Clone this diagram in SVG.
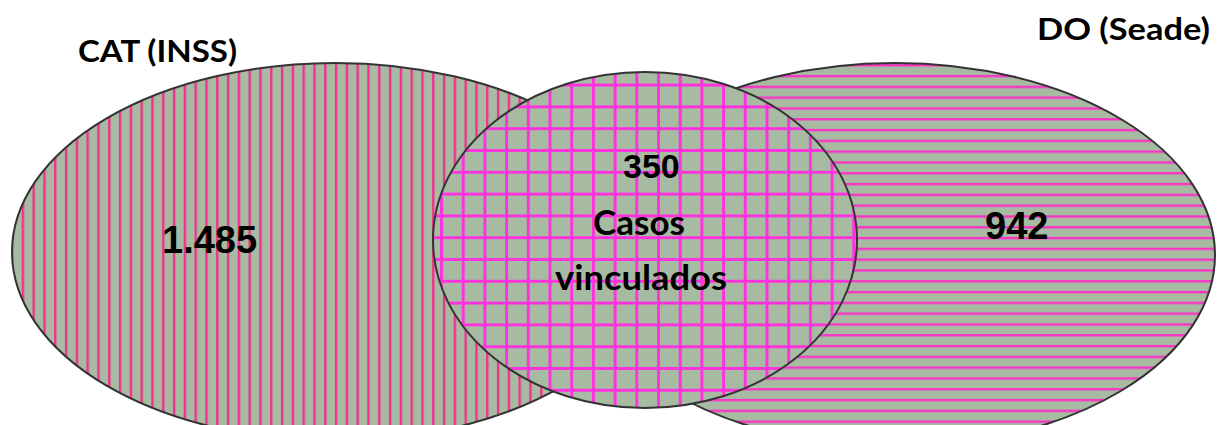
<svg xmlns="http://www.w3.org/2000/svg" width="1218" height="425" viewBox="0 0 1218 425">
<style>
.ell{stroke:#333;stroke-width:2}
.lbl{font-family:Lato,"Open Sans","Liberation Sans",sans-serif;font-weight:bold;fill:#000}
.num{font-family:"Liberation Sans",Arial,sans-serif;font-weight:bold;fill:#000}
</style>
<defs>
<pattern id="vert" patternUnits="userSpaceOnUse" x="0.1" y="0" width="10.8" height="20">
<rect width="10.8" height="20" fill="#a7bba3"/>
<line x1="1.2" y1="0" x2="1.2" y2="20" stroke="#f52f8f" stroke-width="2.4"/>
</pattern>
<pattern id="horz" patternUnits="userSpaceOnUse" x="0" y="10.1" width="20" height="10.8">
<rect width="20" height="10.8" fill="#a7bba3"/>
<line x1="0" y1="1.2" x2="20" y2="1.2" stroke="#fa34c4" stroke-width="2.4"/>
</pattern>
<pattern id="grid" patternUnits="userSpaceOnUse" x="6" y="18.2" width="21.7" height="21.8">
<rect width="21.7" height="21.8" fill="#a7bba3"/>
<line x1="1.5" y1="0" x2="1.5" y2="21.8" stroke="#ff33dd" stroke-width="3"/>
<line x1="0" y1="1.5" x2="21.7" y2="1.5" stroke="#ff33dd" stroke-width="3"/>
</pattern>
</defs>
<g id="cat">
<ellipse class="ell" cx="335" cy="252" rx="323" ry="189" fill="url(#vert)"/>
</g>
<g id="do">
<ellipse class="ell" cx="895" cy="255" rx="320" ry="192" fill="url(#horz)"/>
</g>
<g id="vinculados">
<ellipse class="ell" cx="645" cy="240" rx="212" ry="168" fill="url(#grid)"/>
</g>
<g id="labels">
<text class="lbl" x="78" y="62" font-size="30" textLength="159" lengthAdjust="spacingAndGlyphs">CAT (INSS)</text>
<text class="lbl" x="1037" y="40" font-size="30" textLength="173" lengthAdjust="spacingAndGlyphs">DO (Seade)</text>
<text class="num" x="162" y="253" font-size="38">1.485</text>
<text class="num" x="985" y="239" font-size="38">942</text>
<text class="num" x="623" y="178" font-size="34">350</text>
<text class="lbl" x="593" y="235" font-size="35" textLength="92" lengthAdjust="spacingAndGlyphs">Casos</text>
<text class="lbl" x="555" y="290" font-size="35" textLength="172" lengthAdjust="spacingAndGlyphs">vinculados</text>
</g>
<g id="connectors"/>
</svg>
